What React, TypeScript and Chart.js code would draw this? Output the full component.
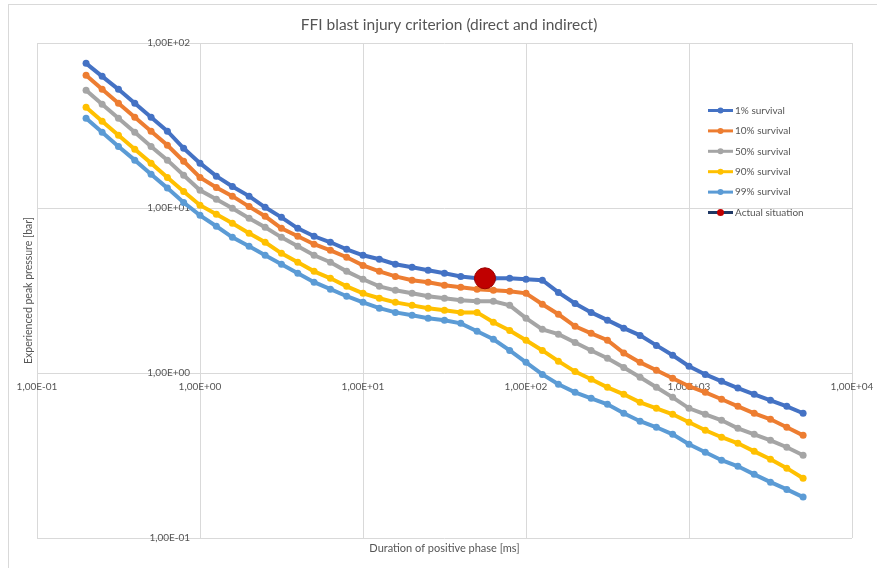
import React, { useEffect, useRef } from 'react';
import { Chart, registerables } from 'chart.js';

Chart.register(...registerables);

// Duration of positive phase [ms]
const durations = [0.2, 0.251, 0.316, 0.398, 0.501, 0.631, 0.794, 1, 1.26, 1.58, 2.0, 2.51, 3.16, 3.98, 5.01, 6.31, 7.94, 10, 12.6, 15.8, 20, 25.1, 31.6, 39.8, 50.1, 63.1, 79.4, 100, 126, 158, 200, 251, 316, 398, 501, 631, 794, 1000, 1259, 1585, 1995, 2512, 3162, 3981, 5012];

// Experienced peak pressure [bar]
const survival1 = [75.3, 62.8, 52.4, 43.1, 35.5, 29.2, 23.0, 18.7, 15.6, 13.5, 11.8, 10.1, 8.78, 7.53, 6.74, 6.2, 5.62, 5.17, 4.89, 4.56, 4.37, 4.19, 4.02, 3.85, 3.75, 3.75, 3.75, 3.7, 3.65, 3.08, 2.64, 2.33, 2.09, 1.87, 1.69, 1.47, 1.28, 1.1, 0.98, 0.89, 0.81, 0.743, 0.683, 0.628, 0.57];
const survival10 = [63.7, 52.4, 43.1, 35.5, 29.2, 24.0, 19.2, 15.3, 13.3, 11.8, 10.2, 8.91, 7.53, 6.74, 6.03, 5.54, 5.03, 4.49, 4.13, 3.85, 3.65, 3.55, 3.4, 3.31, 3.22, 3.17, 3.13, 3.04, 2.61, 2.27, 1.92, 1.74, 1.58, 1.32, 1.16, 1.04, 0.929, 0.831, 0.764, 0.693, 0.628, 0.57, 0.524, 0.469, 0.419];
const survival50 = [51.7, 42.5, 35.0, 28.8, 23.6, 19.5, 15.8, 12.8, 11.3, 9.96, 8.66, 7.64, 6.64, 5.86, 5.17, 4.69, 4.13, 3.7, 3.35, 3.17, 3.04, 2.92, 2.84, 2.76, 2.72, 2.72, 2.57, 2.15, 1.84, 1.72, 1.53, 1.37, 1.23, 1.08, 0.942, 0.819, 0.712, 0.611, 0.562, 0.517, 0.462, 0.425, 0.391, 0.355, 0.317];
const survival90 = [40.8, 33.5, 27.6, 22.7, 18.7, 15.3, 12.6, 10.4, 9.16, 8.08, 7.03, 6.2, 5.31, 4.69, 4.13, 3.75, 3.35, 3.04, 2.84, 2.68, 2.57, 2.47, 2.4, 2.33, 2.33, 2.03, 1.81, 1.58, 1.37, 1.18, 1.02, 0.916, 0.819, 0.743, 0.664, 0.611, 0.562, 0.503, 0.45, 0.408, 0.375, 0.335, 0.3, 0.265, 0.23];
const survival99 = [35.0, 28.8, 23.6, 19.5, 16.0, 13.2, 10.8, 9.03, 7.75, 6.64, 5.86, 5.17, 4.56, 4.02, 3.55, 3.22, 2.92, 2.68, 2.47, 2.33, 2.24, 2.15, 2.09, 2.0, 1.79, 1.6, 1.37, 1.16, 0.98, 0.854, 0.764, 0.703, 0.646, 0.57, 0.51, 0.469, 0.425, 0.37, 0.331, 0.296, 0.272, 0.243, 0.218, 0.197, 0.177];

// Actual situation
const actualDuration = [56];
const actualPressure = [3.75];

const seriesNames = ['1% survival', '10% survival', '50% survival', '90% survival', '99% survival', 'Actual situation'];
const seriesColors = ['#4472C4', '#ED7D31', '#A5A5A5', '#FFC000', '#5B9BD5', '#1F3864'];
const actualMarkerColor = '#C00000';

const xTicks = [0.1, 1, 10, 100, 1000, 10000];
const xTickLabels = ['1,00E-01', '1,00E+00', '1,00E+01', '1,00E+02', '1,00E+03', '1,00E+04'];
const yTicks = [0.1, 1, 10, 100];
const yTickLabels = ['1,00E-01', '1,00E+00', '1,00E+01', '1,00E+02'];

const titleText = 'FFI blast injury criterion (direct and indirect)';
const xTitle = 'Duration of positive phase [ms]';
const yTitle = 'Experienced peak pressure [bar]';

const FONT = 'Lato, "Open Sans", sans-serif';
const TEXT = '#555555';
const GRID = '#d9d9d9';

const decorPlugin = {
  id: 'decor',
  beforeDraw(chart: any) {
    const ctx = chart.ctx;
    ctx.save();
    ctx.fillStyle = '#ffffff';
    ctx.fillRect(0, 0, chart.width, chart.height);
    ctx.strokeStyle = GRID;
    ctx.lineWidth = 1;
    ctx.strokeRect(8.5, 4.5, chart.width + 20, chart.height + 20);
    ctx.restore();
  },
  afterDraw(chart: any) {
    const ctx = chart.ctx;
    const ca = chart.chartArea;
    ctx.save();
    ctx.fillStyle = TEXT;
    ctx.textAlign = 'center';
    ctx.textBaseline = 'middle';
    ctx.font = `15.5px ${FONT}`;
    ctx.fillText(titleText, 449, 25);
    ctx.font = `11px ${FONT}`;
    ctx.fillText(xTitle, (ca.left + ca.right) / 2, 548);
    ctx.font = `10.5px ${FONT}`;
    ctx.save();
    ctx.translate(29, (ca.top + ca.bottom) / 2);
    ctx.rotate(-Math.PI / 2);
    ctx.fillText(yTitle, 0, 0);
    ctx.restore();

    // legend
    const lx = 708;
    const ly = 110.5;
    const step = 20.4;
    ctx.font = `10px ${FONT}`;
    ctx.textAlign = 'left';
    seriesNames.forEach((name, i) => {
      const y = ly + i * step;
      ctx.strokeStyle = seriesColors[i];
      ctx.lineWidth = 3;
      ctx.beginPath();
      ctx.moveTo(lx, y);
      ctx.lineTo(lx + 25, y);
      ctx.stroke();
      ctx.fillStyle = i === 5 ? actualMarkerColor : seriesColors[i];
      ctx.beginPath();
      ctx.arc(lx + 12.5, y, i === 5 ? 3.5 : 3, 0, Math.PI * 2);
      ctx.fill();
      ctx.fillStyle = TEXT;
      ctx.fillText(name, lx + 27, y);
    });
    ctx.restore();
  },
};

export default function App() {
  const canvasRef = useRef<HTMLCanvasElement | null>(null);

  useEffect(() => {
    if (!canvasRef.current) return;
    const curves = [survival1, survival10, survival50, survival90, survival99];
    const datasets: any[] = curves.map((vals, i) => ({
      label: seriesNames[i],
      data: durations.map((x, j) => ({ x, y: vals[j] })),
      borderColor: seriesColors[i],
      backgroundColor: seriesColors[i],
      borderWidth: 4,
      pointRadius: 3.5,
      pointBorderWidth: 0,
      pointBackgroundColor: seriesColors[i],
      tension: 0,
      order: 10 - i,
    }));
    datasets.push({
      label: seriesNames[5],
      data: actualDuration.map((x, j) => ({ x, y: actualPressure[j] })),
      borderColor: '#8B0000',
      backgroundColor: actualMarkerColor,
      pointBackgroundColor: actualMarkerColor,
      pointBorderColor: '#9a0000',
      pointBorderWidth: 1,
      pointRadius: 10.5,
      showLine: false,
      order: -1,
    });

    const chart = new Chart(canvasRef.current, {
      type: 'line',
      data: { datasets },
      options: {
        animation: false,
        responsive: false,
        devicePixelRatio: 1,
        layout: { padding: { left: 37, top: 43, right: 25, bottom: 30 } },
        plugins: {
          legend: { display: false },
          title: { display: false },
          tooltip: { enabled: false },
        },
        scales: {
          x: {
            type: 'logarithmic',
            min: 0.1,
            max: 10000,
            position: { y: 1 } as any,
            afterBuildTicks: (scale: any) => {
              scale.ticks = xTicks.map((v) => ({ value: v }));
            },
            afterFit: (scale: any) => {
              scale.height = 0;
              scale.paddingLeft = 0;
              scale.paddingRight = 0;
            },
            grid: { color: GRID, lineWidth: 1, drawTicks: false },
            border: { display: false },
            ticks: {
              autoSkip: false,
              maxRotation: 0,
              minRotation: 0,
              padding: 8,
              color: TEXT,
              font: { family: FONT, size: 10 },
              callback: (v: any) => {
                const i = xTicks.indexOf(Number(v));
                return i >= 0 ? xTickLabels[i] : '';
              },
            },
          },
          y: {
            type: 'logarithmic',
            min: 0.1,
            max: 100,
            position: { x: 0.87 } as any,
            afterBuildTicks: (scale: any) => {
              scale.ticks = yTicks.map((v) => ({ value: v }));
            },
            afterFit: (scale: any) => {
              scale.width = 0;
              scale.paddingTop = 0;
              scale.paddingBottom = 0;
            },
            grid: { color: GRID, lineWidth: 1, drawTicks: false },
            border: { display: false },
            ticks: {
              autoSkip: false,
              padding: 0,
              color: TEXT,
              font: { family: FONT, size: 10 },
              callback: (v: any) => {
                const i = yTicks.indexOf(Number(v));
                return i >= 0 ? yTickLabels[i] : '';
              },
            },
          },
        },
      },
      plugins: [decorPlugin],
    } as any);

    return () => chart.destroy();
  }, []);

  return (
    <div style={{ position: 'fixed', left: 0, top: 0, width: 877, height: 568, background: '#fff' }}>
      <canvas ref={canvasRef} width={877} height={568} style={{ width: 877, height: 568, display: 'block' }} />
    </div>
  );
}
